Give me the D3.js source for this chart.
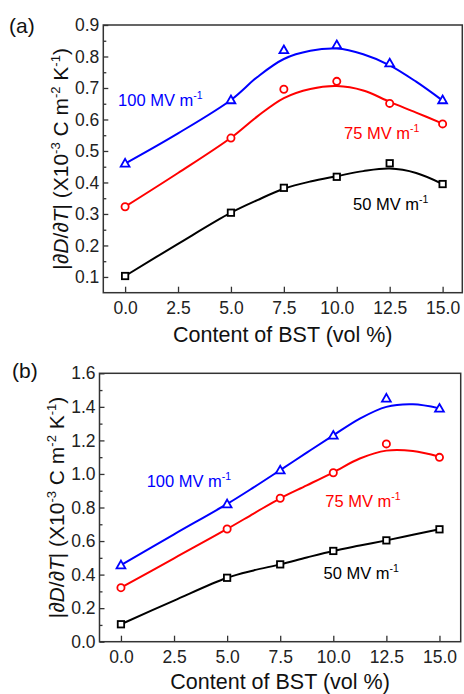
<!DOCTYPE html>
<html>
<head>
<meta charset="utf-8">
<script src="https://cdn.jsdelivr.net/npm/d3@7"></script>
<style>
  html, body { margin: 0; padding: 0; background: #fff; }
  svg { display: block; font-family: "Liberation Sans", Arial, sans-serif; }
</style>
</head>
<body>
<svg id="chart" width="464" height="694"></svg>
<script>
// ---------------- data ----------------
const contentX = [0, 5, 7.5, 10, 12.5, 15];            // BST content (vol %) of measured points
const xTickValues = [0, 2.5, 5, 7.5, 10, 12.5, 15];
const fitX = [0, 2.5, 5, 6.25, 7.5, 8.75, 10, 11.25, 12.5, 13.75, 15]; // where fitted curves were read

// panel (a)
const a100 = [0.461, 0.662, 0.821, 0.837, 0.779, 0.662];
const a75  = [0.323, 0.541, 0.696, 0.721, 0.651, 0.586];
const a50  = [0.103, 0.304, 0.383, 0.418, 0.461, 0.395];
const aFit100 = [0.460, 0.556, 0.662, 0.735, 0.792, 0.818, 0.825, 0.807, 0.772, 0.720, 0.660];
const aFit75  = [0.323, 0.430, 0.542, 0.610, 0.668, 0.697, 0.706, 0.692, 0.656, 0.622, 0.587];
const aFit50  = [0.103, 0.205, 0.304, 0.344, 0.380, 0.403, 0.420, 0.436, 0.444, 0.430, 0.395];
const aYMajor = [0.1, 0.2, 0.3, 0.4, 0.5, 0.6, 0.7, 0.8, 0.9];
const aYMinor = [0.15, 0.25, 0.35, 0.45, 0.55, 0.65, 0.75, 0.85];

// panel (b)
const b100 = [0.457, 0.821, 1.023, 1.230, 1.451, 1.391];
const b75  = [0.322, 0.672, 0.855, 1.007, 1.179, 1.099];
const b50  = [0.104, 0.381, 0.461, 0.541, 0.604, 0.670];
const bFit100 = [0.457, 0.640, 0.821, 0.920, 1.023, 1.127, 1.230, 1.330, 1.400, 1.415, 1.391];
const bFit75  = [0.322, 0.497, 0.672, 0.764, 0.855, 0.932, 1.010, 1.092, 1.139, 1.137, 1.103];
const bFit50  = [0.104, 0.245, 0.381, 0.425, 0.461, 0.502, 0.541, 0.573, 0.604, 0.637, 0.670];
const bYMajor = [0.0, 0.2, 0.4, 0.6, 0.8, 1.0, 1.2, 1.4, 1.6];
const bYMinor = [0.1, 0.3, 0.5, 0.7, 0.9, 1.1, 1.3, 1.5];

const seriesNames = ["100 MV m", "75 MV m", "50 MV m"];
const seriesColors = ["#0000ff", "#ff0000", "#000000"];
const seriesShapes = ["triangle", "circle", "square"];

// ---------------- layout ----------------
const svg = d3.select("#chart");
const tickFont = 17.5;

function drawPanel(cfg) {
  const x = d3.scaleLinear().domain(cfg.xDomain).range([cfg.left, cfg.right]);
  const y = d3.scaleLinear().domain(cfg.yDomain).range([cfg.bottom, cfg.top]);
  const g = svg.append("g");

  // axes
  const xAxis = d3.axisBottom(x).tickValues(xTickValues).tickFormat(d3.format(".1f"))
    .tickSizeInner(-6).tickSizeOuter(0).tickPadding(8.5);
  const gx = g.append("g").attr("transform", `translate(0,${cfg.bottom})`).call(xAxis);
  const yAxis = d3.axisLeft(y).tickValues(cfg.yMajor).tickFormat(d3.format(".1f"))
    .tickSizeInner(-5).tickSizeOuter(0).tickPadding(4);
  const gy = g.append("g").attr("transform", `translate(${cfg.left},0)`).call(yAxis);
  const gyMinor = g.append("g").attr("transform", `translate(${cfg.left},0)`)
    .call(d3.axisLeft(y).tickValues(cfg.yMinor).tickFormat("").tickSizeInner(-3).tickSizeOuter(0));
  [gx, gy, gyMinor].forEach(a => {
    a.select(".domain").remove();
    a.selectAll(".tick line").attr("stroke", "#333").attr("stroke-width", 1.3);
    a.selectAll(".tick text").attr("font-size", tickFont).attr("fill", "#222")
      .attr("font-family", "Liberation Sans, Arial, sans-serif");
  });

  // frame
  g.append("rect").attr("x", cfg.left).attr("y", cfg.top)
    .attr("width", cfg.right - cfg.left).attr("height", cfg.bottom - cfg.top)
    .attr("fill", "none").attr("stroke", "#333").attr("stroke-width", 1.5);

  // fitted curves
  const line = d3.line().x((d, i) => x(fitX[i])).y(d => y(d)).curve(d3.curveCatmullRom.alpha(0.5));
  cfg.fits.forEach((f, k) => {
    g.append("path").attr("d", line(f)).attr("fill", "none")
      .attr("stroke", seriesColors[k]).attr("stroke-width", 2);
  });

  // markers
  cfg.points.forEach((vals, k) => {
    const shape = seriesShapes[k];
    vals.forEach((v, i) => {
      const cx = x(contentX[i]), cy = y(v);
      let m;
      if (shape === "circle") {
        m = g.append("circle").attr("cx", cx).attr("cy", cy).attr("r", 3.6);
      } else if (shape === "square") {
        m = g.append("rect").attr("x", cx - 3.2).attr("y", cy - 3.2).attr("width", 6.4).attr("height", 6.4);
      } else {
        const s = 4.4;
        m = g.append("path").attr("d",
          `M${cx},${cy - s} L${cx + s},${cy + s * 0.75} L${cx - s},${cy + s * 0.75} Z`);
      }
      m.attr("fill", "#fff").attr("stroke", seriesColors[k]).attr("stroke-width", 1.8);
    });
  });

  // series labels
  cfg.labels.forEach((lb, k) => {
    const t = g.append("text").attr("x", x(lb[0])).attr("y", y(lb[1]))
      .attr("font-size", 16.5).attr("fill", seriesColors[k]);
    t.append("tspan").text(seriesNames[k]);
    t.append("tspan").attr("dy", -7).attr("font-size", 10.5).text("-1");
  });

  // panel tag
  g.append("text").attr("x", cfg.tag[0]).attr("y", cfg.tag[1])
    .attr("font-size", 21).attr("fill", "#111").text(cfg.tagText);

  // x title
  g.append("text").attr("x", (cfg.left + cfg.right) / 2).attr("y", cfg.xTitleY)
    .attr("text-anchor", "middle").attr("font-size", 21.5).attr("fill", "#111")
    .text("Content of BST (vol %)");

  // y title
  const yt = g.append("text")
    .attr("transform", `translate(${cfg.yTitleX},${(cfg.top + cfg.bottom) / 2}) rotate(-90)`)
    .attr("text-anchor", "middle").attr("font-size", 21).attr("fill", "#111");
  const parts = [
    ["|\u2202", 0, null], ["D", 0, "italic"], ["/\u2202", 0, null], ["T", 0, "italic"],
    ["| (X10", 0, null], ["-3", 1, null], [" C m", -1, null], ["-2", 1, null],
    [" K", -1, null], ["-1", 1, null], [")", -1, null]
  ];
  parts.forEach(p => {
    const ts = yt.append("tspan").text(p[0]);
    if (p[2]) ts.attr("font-style", p[2]);
    if (p[1] === 1) ts.attr("dy", -8).attr("font-size", 13);
    if (p[1] === -1) ts.attr("dy", 8);
  });
}

drawPanel({
  left: 103.3, right: 462.3, top: 25, bottom: 292.7,
  xDomain: [-1.03, 15.93], yDomain: [0.05, 0.9],
  yMajor: aYMajor, yMinor: aYMinor,
  fits: [aFit100, aFit75, aFit50], points: [a100, a75, a50],
  labels: [[-0.33, 0.643], [10.34, 0.538], [10.77, 0.313]],
  tag: [9, 32.5], tagText: "(a)", xTitleY: 341.5, yTitleX: 68
});

drawPanel({
  left: 99.5, right: 460.7, top: 373.3, bottom: 641.7,
  xDomain: [-1.01, 16.0], yDomain: [0, 1.6],
  yMajor: bYMajor, yMinor: bYMinor,
  fits: [bFit100, bFit75, bFit50], points: [b100, b75, b50],
  labels: [[1.21, 0.924], [9.62, 0.805], [9.54, 0.372]],
  tag: [12, 378.3], tagText: "(b)", xTitleY: 689.3, yTitleX: 64
});
</script>
</body>
</html>
